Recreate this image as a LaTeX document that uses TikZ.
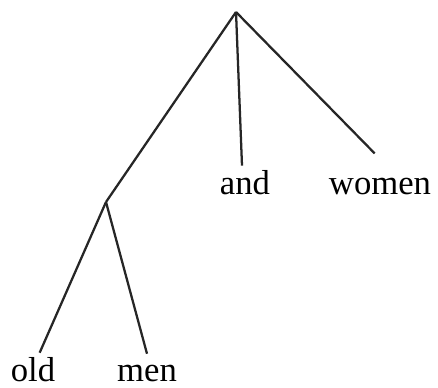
\documentclass[tikz,border=0pt]{standalone}
\usepackage{fontspec}
\setmainfont{Liberation Serif}
\usetikzlibrary{positioning}

\begin{document}
\begin{tikzpicture}[
    x=0.75pt, y=-0.75pt,
    branch/.style={line width=1.7pt, black!85},
    leaf/.style={font=\fontsize{26}{30}\selectfont, inner sep=0pt, anchor=base}
  ]
  \useasboundingbox (0,0) rectangle (438,387);

  \coordinate (root) at (236,12);
  \coordinate (np) at (106,202);

  \node[leaf] (and) at (245,194) {and};
  \node[leaf] (women) at (380,194) {women};
  \node[leaf] (old) at (33,381) {old};
  \node[leaf] (men) at (147,381) {men};

  % branches
  \draw[branch] (root) -- ([xshift=-2.25pt,yshift=3pt]and.north);
  \draw[branch] (root) -- ([xshift=-4pt,yshift=18pt]women.north);
  \draw[branch] (root) -- (np);
  \draw[branch] (np) -- ([xshift=5pt,yshift=3pt]old.north);
  \draw[branch] (np) -- ([yshift=8pt]men.north);
\end{tikzpicture}
\end{document}
